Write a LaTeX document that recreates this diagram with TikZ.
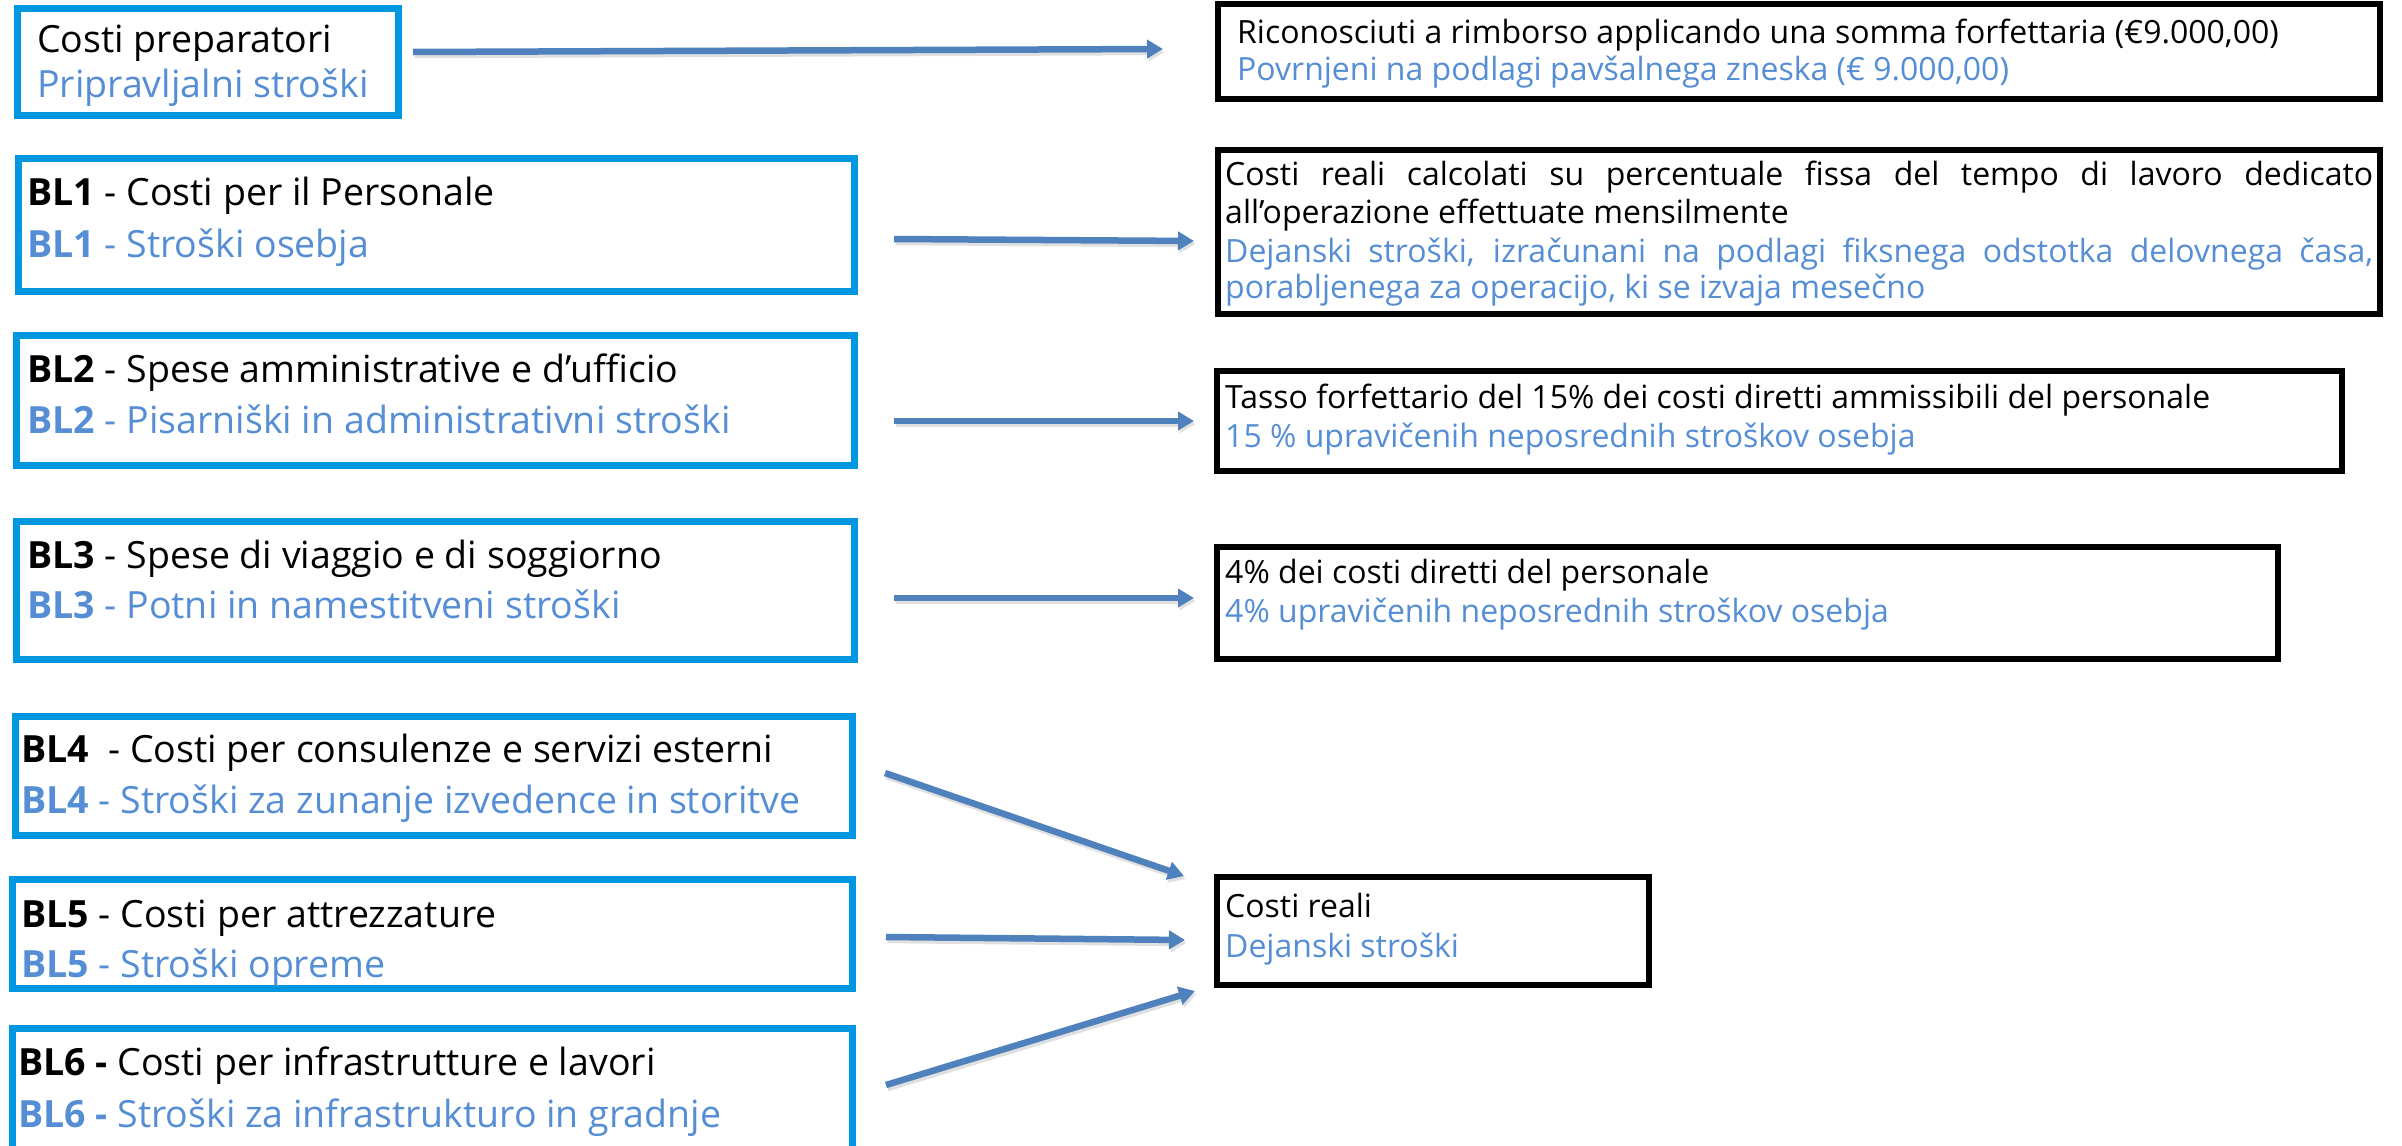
\documentclass[tikz,border=0pt]{standalone}
\usepackage{fontspec}
\setmainfont{Open Sans}
\usetikzlibrary{arrows.meta,calc}
\definecolor{lblue}{RGB}{0,150,224}
\definecolor{tblue}{RGB}{85,142,213}
\definecolor{ablue}{RGB}{79,129,189}
\begin{document}
\begin{tikzpicture}[x=1pt,y=-1pt,
  lbox/.style={draw=lblue,line width=7pt,inner sep=0pt},
  rbox/.style={draw=black,line width=6pt,inner sep=0pt},
  ltxt/.style={anchor=base west,inner sep=0pt,font=\fontsize{37.5}{44}\selectfont},
  rtxt/.style={anchor=base west,inner sep=0pt,font=\fontsize{32}{38}\selectfont},
  sl/.style={text=tblue},
  arr/.style={draw=ablue,line width=6.5pt,-{Triangle[length=16pt,width=18pt]},
    preaction={draw=black!12,line width=6.5pt,transform canvas={shift={(1.5pt,-3pt)}}}}]
\useasboundingbox (0,0) rectangle (2402,1146);
\clip (0,0) rectangle (2402,1146);
\fill[white] (0,0) rectangle (2402,1146);

% left boxes
\node[lbox,minimum width=381pt,minimum height=107pt] (prep) at (208,62) {};
\node[lbox,minimum width=836pt,minimum height=133pt] (bl1) at (436.5,225) {};
\node[lbox,minimum width=838pt,minimum height=130pt] (bl2) at (435.5,400.5) {};
\node[lbox,minimum width=838pt,minimum height=138pt] (bl3) at (435.5,590.5) {};
\node[lbox,minimum width=837pt,minimum height=119pt] (bl4) at (434,776) {};
\node[lbox,minimum width=840pt,minimum height=109pt] (bl5) at (432.5,934) {};
\node[lbox,minimum width=840pt,minimum height=138pt] (bl6) at (432.5,1097.5) {};

% right boxes
\node[rbox,minimum width=1162pt,minimum height=95pt] (r1) at (1799,51.5) {};
\node[rbox,minimum width=1162pt,minimum height=164pt] (r2) at (1799,232) {};
\node[rbox,minimum width=1125pt,minimum height=100pt] (r3) at (1779.5,421) {};
\node[rbox,minimum width=1061pt,minimum height=112pt] (r4) at (1747.5,603) {};
\node[rbox,minimum width=432pt,minimum height=108pt] (r5) at (1433,931) {};

% left texts
\node[ltxt] (prepa) at (37,52) {Costi preparatori};
\node[ltxt,sl] (prepb) at (37,97) {Pripravljalni stroški};
\node[ltxt] (bl1a) at (27,205) {\textbf{BL1} - Costi per il Personale};
\node[ltxt,sl] (bl1b) at (27,257) {\textbf{BL1} - Stroški osebja};
\node[ltxt] (bl2a) at (27,382) {\textbf{BL2} - Spese amministrative e d’ufficio};
\node[ltxt,sl] (bl2b) at (27,433) {\textbf{BL2} - Pisarniški in administrativni stroški};
\node[ltxt] (bl3a) at (27,568) {\textbf{BL3} - Spese di viaggio e di soggiorno};
\node[ltxt,sl] (bl3b) at (27,618) {\textbf{BL3} - Potni in namestitveni stroški};
\node[ltxt] (bl4a) at (21,762) {\textbf{BL4}\ \ - Costi per consulenze e servizi esterni};
\node[ltxt,sl] (bl4b) at (21,813) {\textbf{BL4} - Stroški za zunanje izvedence in storitve};
\node[ltxt] (bl5a) at (21,927) {\textbf{BL5} - Costi per attrezzature};
\node[ltxt,sl] (bl5b) at (21,977) {\textbf{BL5} - Stroški opreme};
\node[ltxt] (bl6a) at (18,1075) {\textbf{BL6 -} Costi per infrastrutture e lavori};
\node[ltxt,sl] (bl6b) at (18,1127) {\textbf{BL6 -} Stroški za infrastrukturo in gradnje};

% right texts
\node[rtxt] (r1a) at (1237,43) {Riconosciuti a rimborso applicando una somma forfettaria (€9.000,00)};
\node[rtxt,sl] (r1b) at (1237,80) {Povrnjeni na podlagi pavšalnega zneska (€ 9.000,00)};
\node[rtxt] (r2a) at (1225,185) {\makebox[1148pt][s]{Costi reali calcolati su percentuale fissa del tempo di lavoro dedicato}};
\node[rtxt] (r2b) at (1225,223) {all’operazione effettuate mensilmente};
\node[rtxt,sl] (r2c) at (1225,262) {\makebox[1148pt][s]{Dejanski stroški, izračunani na podlagi fiksnega odstotka delovnega časa,}};
\node[rtxt,sl] (r2d) at (1225,298) {porabljenega za operacijo, ki se izvaja mesečno};
\node[rtxt] (r3a) at (1225,408) {Tasso forfettario del 15\% dei costi diretti ammissibili del personale};
\node[rtxt,sl] (r3b) at (1225,447) {15 \% upravičenih neposrednih stroškov osebja};
\node[rtxt] (r4a) at (1225,583) {4\% dei costi diretti del personale};
\node[rtxt,sl] (r4b) at (1225,622) {4\% upravičenih neposrednih stroškov osebja};
\node[rtxt] (r5a) at (1225,917) {Costi reali};
\node[rtxt,sl] (r5b) at (1225,957) {Dejanski stroški};

% arrows
\draw[arr] ($(prep.east)+(11,-10)$) -- ($(r1.west)+(-52,-2.5)$);
\draw[arr] ($(bl1.east)+(36,14)$) -- ($(r2.west)+(-21,9)$);
\draw[arr] ($(bl2.east)+(36,20.5)$) -- ($(r3.west)+(-20,0)$);
\draw[arr] ($(bl3.east)+(36,7.5)$) -- ($(r4.west)+(-20,-5)$);
\draw[arr] ($(bl4.east)+(29,-3)$) -- ($(r5.west)+(-30,-55)$);
\draw[arr] ($(bl5.east)+(30,3)$) -- ($(r5.west)+(-29,9)$);
\draw[arr] ($(bl6.east)+(30,-12.5)$) -- ($(r5.west)+(-19,60)$);
\end{tikzpicture}
\end{document}
